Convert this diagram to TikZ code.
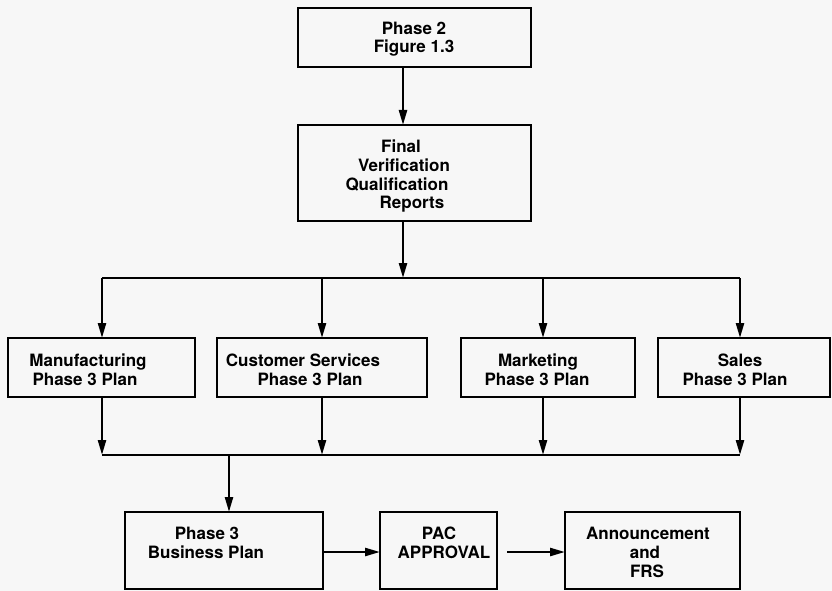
\documentclass[tikz,border=0pt]{standalone}
\usepackage{fontspec}
\setmainfont{TeX Gyre Heros}
\usetikzlibrary{arrows.meta}
\definecolor{paper}{RGB}{247,247,247}
\begin{document}
\begin{tikzpicture}[x=1pt,y=-1pt,
  box/.style={draw, line width=2.4pt, inner sep=0pt, outer sep=0pt},
  txt/.style={anchor=base, inner sep=0pt, font=\fontsize{17}{19}\selectfont\bfseries},
  link/.style={line width=2.4pt},
  arr/.style={line width=2.4pt, -{Triangle[length=15pt,width=8pt]}}]
% page
\fill[paper] (0,0) rectangle (832,591);
\useasboundingbox (0,0) rectangle (832,591);

% boxes
\node[box, minimum width=233, minimum height=59] (p2)  at (414.5,37.5) {};
\node[box, minimum width=233, minimum height=96] (fv)  at (414.5,173) {};
\node[box, minimum width=187, minimum height=59] (mf)  at (101.5,367.5) {};
\node[box, minimum width=210, minimum height=59] (cs)  at (322,367.5) {};
\node[box, minimum width=174, minimum height=59] (mk)  at (548,367.5) {};
\node[box, minimum width=172, minimum height=59] (sl)  at (744,367.5) {};
\node[box, minimum width=198, minimum height=77] (bp)  at (224,550.5) {};
\node[box, minimum width=117, minimum height=77] (pac) at (438.5,550.5) {};
\node[box, minimum width=175, minimum height=77] (an)  at (652.5,550.5) {};

% box texts
\node[txt] (p2a) at (414,35) {Phase 2};
\node[txt] (p2b) at (414,53) {Figure 1.3};
\node[txt] (fva) at (401,152) {Final};
\node[txt] (fvb) at (404,171) {Verification};
\node[txt] (fvc) at (397,190) {Qualification};
\node[txt] (fvd) at (412,208) {Reports};
\node[txt] (mfa) at (88,366) {Manufacturing};
\node[txt] (mfb) at (85,385) {Phase 3 Plan};
\node[txt] (csa) at (303,366) {Customer Services};
\node[txt] (csb) at (310,385) {Phase 3 Plan};
\node[txt] (mka) at (538,366) {Marketing};
\node[txt] (mkb) at (537,385) {Phase 3 Plan};
\node[txt] (sla) at (740,366) {Sales};
\node[txt] (slb) at (735,385) {Phase 3 Plan};
\node[txt] (bpa) at (207,539) {Phase 3};
\node[txt] (bpb) at (206,558) {Business Plan};
\node[txt] (paca) at (439,539) {PAC};
\node[txt] (pacb) at (444,558) {APPROVAL};
\node[txt] (ana) at (648,539) {Announcement};
\node[txt] (anb) at (645,558) {and};
\node[txt] (anc) at (647,577) {FRS};

% junction points on the two buses
\coordinate (d0) at (403,278);
\coordinate (d1) at (102,278);
\coordinate (d2) at (322,278);
\coordinate (d3) at (543,278);
\coordinate (d4) at (740,278);
\coordinate (e1) at (102,455);
\coordinate (e2) at (322,455);
\coordinate (e3) at (543,455);
\coordinate (e4) at (740,455);
\coordinate (f0) at (229,455);
\coordinate (row) at (0,552);

% top chain
\draw[arr] (p2.south -| d0) -- (fv.north -| d0);
\draw[arr] (d0 |- fv.south) -- (d0);

% distribution bus
\draw[link] (d1) -- (d4);
\draw[arr] (d1) -- (d1 |- mf.north);
\draw[arr] (d2) -- (d2 |- cs.north);
\draw[arr] (d3) -- (d3 |- mk.north);
\draw[arr] (d4) -- (d4 |- sl.north);

% collection bus
\draw[arr] (e1 |- mf.south) -- (e1);
\draw[arr] (e2 |- cs.south) -- (e2);
\draw[arr] (e3 |- mk.south) -- (e3);
\draw[arr] (e4 |- sl.south) -- (e4);
\draw[link] (e1) -- (e4);
\draw[arr] (f0) -- (f0 |- bp.north);

% bottom row
\draw[arr] (bp.east |- row) -- (pac.west |- row);
\draw[arr] ([xshift=10pt]pac.east |- row) -- (an.west |- row);
\end{tikzpicture}
\end{document}
